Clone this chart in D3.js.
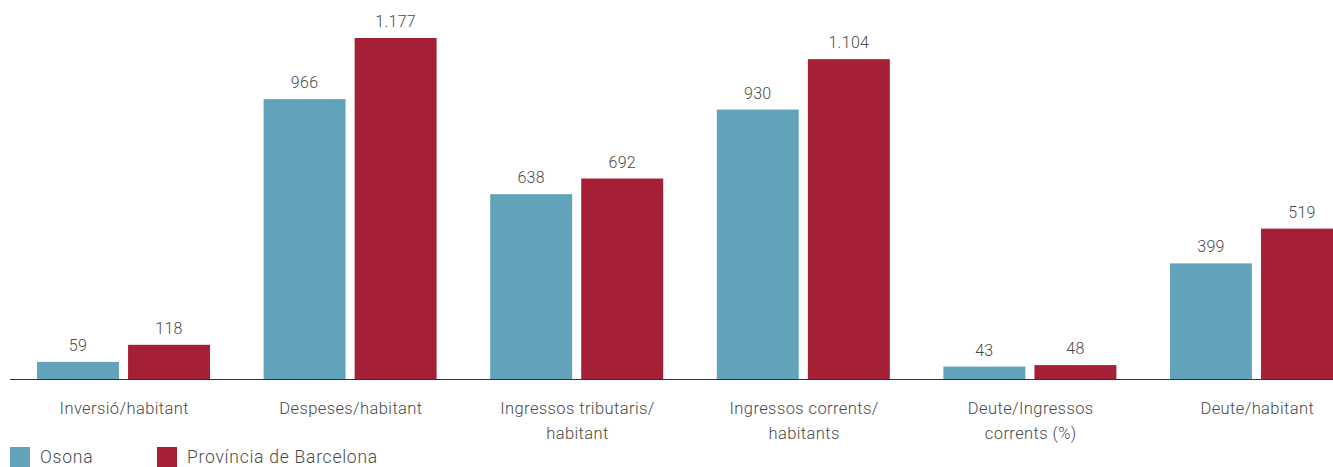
<!DOCTYPE html>
<html>
<head>
<meta charset="utf-8">
<script src="https://cdn.jsdelivr.net/npm/d3@7"></script>
<style>
  body { margin: 0; background: #fff; overflow: hidden; }
  svg { display: block; font-family: "Roboto", sans-serif; font-weight: 300; }
</style>
</head>
<body>
<div id="chart"></div>
<script>
var categories = [
  ['Inversió/habitant'],
  ['Despeses/habitant'],
  ['Ingressos tributaris/', 'habitant'],
  ['Ingressos corrents/', 'habitants'],
  ['Deute/Ingressos', 'corrents (%)'],
  ['Deute/habitant']
];
var seriesNames = ['Osona', 'Província de Barcelona'];
var osona = [59, 966, 638, 930, 43, 399];
var barcelona = [118, 1177, 692, 1104, 48, 519];
var colors = ['#62a3bb', '#a51f36'];

var width = 1333, height = 467;
var baseY = 379;

var svg = d3.select('#chart')
  .append('svg')
  .attr('width', width)
  .attr('height', height);

var x0 = d3.scaleBand()
  .domain(d3.range(categories.length))
  .range([10, 10 + 226.6 * categories.length])
  .paddingInner(0)
  .paddingOuter(0);

var x1 = d3.scaleBand()
  .domain([0, 1])
  .range([27, 200])
  .paddingInner(0.1);

var y = d3.scaleLinear()
  .domain([0, 1177])
  .range([baseY, 38]);

var fmt = function (v) {
  return d3.format(',')(v).replace(/,/g, '.');
};

var groups = svg.selectAll('g.grp')
  .data(categories)
  .enter()
  .append('g')
  .attr('class', 'grp')
  .attr('transform', function (d, i) { return 'translate(' + x0(i) + ',0)'; });

groups.each(function (d, i) {
  var g = d3.select(this);
  var vals = [osona[i], barcelona[i]];
  vals.forEach(function (v, s) {
    g.append('rect')
      .attr('x', x1(s))
      .attr('width', x1.bandwidth())
      .attr('y', y(v))
      .attr('height', baseY - y(v))
      .attr('fill', colors[s]);
    g.append('text')
      .attr('x', x1(s) + x1.bandwidth() / 2)
      .attr('y', y(v) - 11)
      .attr('text-anchor', 'middle')
      .attr('font-size', 16)
      .attr('letter-spacing', 0.3)
      .attr('fill', '#4a4a4a')
      .text(fmt(v));
  });
  var t = g.append('text')
    .attr('text-anchor', 'middle')
    .attr('font-size', 16.5)
    .attr('letter-spacing', 0.4)
    .attr('fill', '#4a4a4a');
  d.forEach(function (line, k) {
    t.append('tspan')
      .attr('x', x0.bandwidth() / 2 + 1)
      .attr('y', 414 + k * 25)
      .text(line);
  });
});

svg.append('line')
  .attr('x1', 10)
  .attr('x2', width)
  .attr('y1', baseY + 0.5)
  .attr('y2', baseY + 0.5)
  .attr('stroke', '#333')
  .attr('stroke-width', 1.2);

var legX = [10, 157];
seriesNames.forEach(function (name, s) {
  svg.append('rect')
    .attr('x', legX[s])
    .attr('y', 447)
    .attr('width', 20)
    .attr('height', 20)
    .attr('fill', colors[s]);
  svg.append('text')
    .attr('x', legX[s] + 30)
    .attr('y', 463)
    .attr('font-size', 17.5)
    .attr('letter-spacing', 0.75)
    .attr('fill', '#4a4a4a')
    .text(name);
});
</script>
</body>
</html>
